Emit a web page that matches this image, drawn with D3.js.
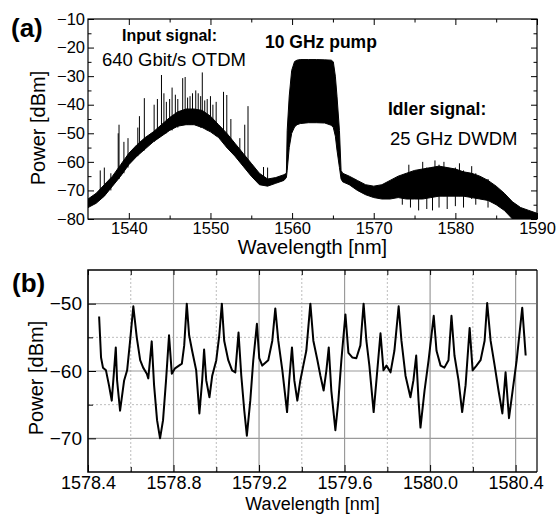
<!DOCTYPE html>
<html>
<head>
<meta charset="utf-8">
<script src="https://cdn.jsdelivr.net/npm/d3@7/dist/d3.min.js"></script>
<style>
  body { margin: 0; background: #fff; }
  svg { display: block; font-family: 'Liberation Sans', Arial, Helvetica, sans-serif; }
</style>
</head>
<body>
<div id="chart"></div>
<script>
// ---- panel (a): spectrum envelope (wavelength nm, upper / lower dBm)
const specWl = [1535, 1536, 1537, 1538, 1539, 1540, 1541, 1542, 1543, 1544, 1545, 1546, 1547, 1548, 1549,
  1550, 1551, 1552, 1553, 1554, 1555, 1556, 1557, 1558, 1559,
  1559.3, 1559.4, 1559.65, 1559.95, 1560.3, 1560.6,
  1561, 1562, 1563, 1564,
  1564.8, 1565.05, 1565.3, 1565.5, 1565.8, 1566.0, 1566.2,
  1567, 1568, 1569, 1570, 1571, 1572, 1573, 1574, 1575, 1576, 1577, 1578, 1579, 1580, 1581, 1582,
  1583, 1584, 1585, 1586, 1587, 1588, 1589, 1590]
const specHi = [-73, -71, -68, -65, -61, -57, -54, -51.5, -49.5, -47, -44.5, -42.5, -41.5, -41.5, -42,
  -44, -47, -50, -53.5, -57, -60.5, -64, -66, -65.5, -64.5,
  -64, -49, -37, -28, -24.9, -24.4,
  -24.2, -24.2, -24.2, -24.3,
  -24.4, -25, -30, -37, -49, -63, -64,
  -65, -66.5, -68, -68.5, -68, -66.5, -65, -64, -63, -62.5, -62, -61.5, -62, -62.5, -63.5, -64,
  -65, -66.5, -68.5, -71, -74, -76, -77, -78]
const specLo = [-76, -74.5, -72, -68.5, -65, -61, -58, -55.5, -53, -51, -49, -47.5, -47, -47, -48,
  -49.5, -51.5, -55, -58, -61.5, -65, -68, -68.5, -67.5, -66.5,
  -65.5, -63, -55, -50, -47.8, -47,
  -46.6, -46.3, -46.3, -46.4,
  -47.2, -48, -51, -55.9, -62, -66, -67,
  -68, -70, -71.5, -72.5, -73, -73, -72.5, -73, -73, -73, -72.5, -72, -72, -72, -72, -72.5,
  -73, -73.5, -75, -77, -80, -80, -80, -80]

// narrow spectral lines sticking out of the band: [wavelength, top dBm, bottom dBm]
const spikes = [[1536.5, -63, -73], [1537.0, -62, -72], [1537.8, -64, -70], [1538.7, -50, -66],
  [1538.8, -47, -66], [1539.4, -53, -64], [1539.9, -51.7, -62], [1541.1, -48, -58], [1541.3, -44, -57],
  [1541.9, -37.7, -56], [1543.1, -40, -53], [1543.5, -38, -52], [1544.0, -29.6, -51], [1544.3, -36, -50],
  [1544.6, -39, -50], [1545.0, -38, -49], [1545.3, -34, -49], [1545.7, -36.5, -48], [1546.0, -38, -48],
  [1546.6, -30.7, -47], [1546.9, -30.3, -47], [1547.2, -37.5, -47], [1547.5, -37, -47], [1547.8, -36, -47],
  [1548.2, -35, -47], [1548.5, -36, -47], [1548.8, -37, -48], [1549.0, -28.7, -48], [1549.3, -38.5, -48],
  [1549.6, -38, -49], [1550.0, -37, -49], [1550.3, -40, -50], [1550.7, -39, -51], [1551.6, -35.5, -53],
  [1552.0, -36.6, -55], [1552.5, -45, -56], [1553.6, -51.7, -60], [1554.2, -47, -62], [1554.6, -40.5, -63],
  [1556.5, -61.8, -68], [1557.0, -62, -68],
  [1573.5, -65, -75], [1574.3, -61, -73], [1574.5, -64, -76], [1575.5, -63, -77], [1576.0, -60, -73],
  [1576.5, -62, -76.5], [1577.2, -62, -77], [1577.5, -59.5, -72], [1578.0, -61, -76], [1578.6, -60, -72],
  [1579.0, -62, -76.5], [1580.0, -62, -75.5], [1580.5, -60.5, -72], [1581.0, -63, -76], [1582.0, -61.5, -73],
  [1582.5, -64, -75], [1584.0, -66, -76]]

// ---- panel (b): zoomed idler spectrum
const zoomWl = [1578.452, 1578.461, 1578.470, 1578.484, 1578.498, 1578.511, 1578.522, 1578.530, 1578.536,
  1578.550, 1578.569, 1578.583, 1578.597, 1578.612, 1578.628, 1578.644, 1578.658, 1578.675, 1578.682,
  1578.698, 1578.709, 1578.723, 1578.737, 1578.751, 1578.765, 1578.779, 1578.792, 1578.807, 1578.839,
  1578.850, 1578.862, 1578.873, 1578.887, 1578.906, 1578.921, 1578.934, 1578.943, 1578.953, 1578.968,
  1578.981, 1579.000, 1579.014, 1579.026, 1579.037, 1579.056, 1579.074, 1579.089, 1579.104, 1579.117,
  1579.131, 1579.143, 1579.159, 1579.173, 1579.190, 1579.201, 1579.215, 1579.243, 1579.262, 1579.276,
  1579.290, 1579.309, 1579.331, 1579.341, 1579.354, 1579.365, 1579.379, 1579.393, 1579.407, 1579.421,
  1579.440, 1579.454, 1579.473, 1579.487, 1579.502, 1579.515, 1579.526, 1579.538, 1579.557, 1579.571,
  1579.585, 1579.604, 1579.618, 1579.637, 1579.655, 1579.674, 1579.689, 1579.702, 1579.716, 1579.736,
  1579.749, 1579.768, 1579.782, 1579.796, 1579.815, 1579.833, 1579.853, 1579.866, 1579.885, 1579.908,
  1579.922, 1579.935, 1579.946, 1579.955, 1579.974, 1579.993, 1580.017, 1580.030, 1580.049, 1580.067,
  1580.086, 1580.100, 1580.114, 1580.133, 1580.150, 1580.166, 1580.185, 1580.199, 1580.217, 1580.236,
  1580.255, 1580.267, 1580.283, 1580.302, 1580.320, 1580.338, 1580.353, 1580.369, 1580.386, 1580.405,
  1580.431, 1580.447]
const zoomDbm = [-51.9, -58.0, -59.5, -59.9, -62.1, -64.4, -59.9, -56.5, -61.4,
  -65.9, -61.4, -59.9, -55.5, -50.4, -55.0, -58.4, -59.5, -60.4, -61.1,
  -55.6, -62.1, -67.3, -70.0, -67.3, -61.4, -54.7, -60.4, -59.6, -58.9,
  -56.2, -50.0, -54.7, -57.0, -59.9, -66.3, -61.4, -56.8, -61.4, -63.9,
  -60.7, -58.4, -54.7, -50.0, -55.5, -58.4, -59.9, -60.2, -54.3, -60.7,
  -65.9, -69.6, -64.4, -58.4, -53.0, -58.1, -59.2, -58.4, -55.5, -50.7,
  -55.5, -59.9, -66.1, -61.4, -56.5, -61.4, -64.4, -61.4, -59.2, -57.0,
  -50.0, -55.5, -58.4, -60.7, -62.9, -59.9, -56.5, -62.9, -68.8, -64.4,
  -58.4, -51.6, -57.3, -58.0, -58.1, -56.2, -50.0, -55.5, -59.2, -66.1,
  -61.4, -54.4, -59.9, -59.2, -60.2, -57.0, -50.4, -55.5, -60.7, -63.9,
  -61.4, -57.7, -64.4, -68.4, -62.9, -58.4, -51.8, -57.0, -59.2, -59.5,
  -58.4, -51.8, -57.7, -61.4, -66.1, -62.1, -53.6, -59.9, -59.2, -58.4,
  -55.5, -49.9, -55.5, -59.2, -62.9, -66.3, -60.2, -67.0, -62.9, -58.4,
  -50.6, -57.7]

// tick values
const aXMajor = [1540, 1550, 1560, 1570, 1580, 1590]
const aXMinor = [1545, 1555, 1565, 1575, 1585]
const aYMajor = [-10, -20, -30, -40, -50, -60, -70, -80]
const aYMinor = [-15, -25, -35, -45, -55, -65, -75]
const bXMajor = [1578.4, 1578.8, 1579.2, 1579.6, 1580.0, 1580.4]
const bXMinor = [1578.6, 1579.0, 1579.4, 1579.8, 1580.2]
const bYMajor = [-50, -60, -70]
const bYMinor = [-55, -65]

const width = 559
const height = 514

const svg = d3
  .select('#chart')
  .append('svg')
  .attr('width', width)
  .attr('height', height)

// ================= panel (a)
const aBox = { left: 88, right: 537, top: 19, bottom: 219 }

const xA = d3.scaleLinear().domain([1535, 1590]).range([aBox.left, aBox.right])
const yA = d3.scaleLinear().domain([-80, -10]).range([aBox.bottom, aBox.top])

svg.append('clipPath')
  .attr('id', 'clip-a')
  .append('rect')
  .attr('x', aBox.left)
  .attr('y', aBox.top)
  .attr('width', aBox.right - aBox.left)
  .attr('height', aBox.bottom - aBox.top)

const specData = specWl.map((w, i) => ({ wl: w, hi: specHi[i], lo: specLo[i] }))

const area = d3.area()
  .x(d => xA(d.wl))
  .y0(d => yA(d.lo))
  .y1(d => yA(d.hi))

const gA = svg.append('g').attr('clip-path', 'url(#clip-a)')

gA.append('path')
  .datum(specData)
  .attr('d', area)
  .attr('fill', '#000')
  .attr('stroke', '#000')
  .attr('stroke-width', 1)

gA.selectAll('.spike')
  .data(spikes)
  .enter()
  .append('line')
  .attr('class', 'spike')
  .attr('x1', d => xA(d[0]))
  .attr('x2', d => xA(d[0]))
  .attr('y1', d => yA(d[1]))
  .attr('y2', d => yA(d[2]))
  .attr('stroke', '#000')
  .attr('stroke-width', 1)

// axes with inward ticks on all four sides
function tickAxis(axisFn, scale, values, size, transform, labels, fontSize, pad) {
  const ax = axisFn(scale).tickValues(values).tickSize(-size)
  if (labels) {
    ax.tickFormat(labels).tickPadding(pad)
  } else {
    ax.tickFormat('')
  }
  const g = svg.append('g').attr('transform', transform).call(ax)
  g.select('.domain').remove()
  g.selectAll('line').attr('stroke', '#000')
  g.selectAll('text')
    .attr('fill', '#000')
    .style('font-family', "'Liberation Sans', Arial, sans-serif")
    .style('font-size', fontSize + 'px')
  return g
}

const fmtInt = d3.format('d')
tickAxis(d3.axisBottom, xA, aXMajor, 6, `translate(0,${aBox.bottom})`, fmtInt, 16.5, 3)
tickAxis(d3.axisBottom, xA, aXMinor, 3.5, `translate(0,${aBox.bottom})`, null)
tickAxis(d3.axisTop, xA, aXMajor, 6, `translate(0,${aBox.top})`, null)
tickAxis(d3.axisTop, xA, aXMinor, 3.5, `translate(0,${aBox.top})`, null)
tickAxis(d3.axisLeft, yA, aYMajor, 6, `translate(${aBox.left},0)`, fmtInt, 16.5, 3)
tickAxis(d3.axisLeft, yA, aYMinor, 3.5, `translate(${aBox.left},0)`, null)
tickAxis(d3.axisRight, yA, aYMajor, 6, `translate(${aBox.right},0)`, null)
tickAxis(d3.axisRight, yA, aYMinor, 3.5, `translate(${aBox.right},0)`, null)

svg.append('rect')
  .attr('x', aBox.left)
  .attr('y', aBox.top)
  .attr('width', aBox.right - aBox.left)
  .attr('height', aBox.bottom - aBox.top)
  .attr('fill', 'none')
  .attr('stroke', '#000')
  .attr('stroke-width', 1.2)

// labels panel (a)
svg.append('text').text('(a)')
  .attr('x', 11).attr('y', 37)
  .attr('font-size', 26).attr('font-weight', 'bold')

svg.append('text').text('Wavelength [nm]')
  .attr('x', (aBox.left + aBox.right) / 2).attr('y', 254)
  .attr('text-anchor', 'middle').attr('font-size', 20)

svg.append('text').text('Power [dBm]')
  .attr('transform', 'translate(45,128) rotate(-90)')
  .attr('text-anchor', 'middle').attr('font-size', 20)

svg.append('text').text('Input signal:')
  .attr('x', 122).attr('y', 41)
  .attr('font-size', 16).attr('font-weight', 'bold')
svg.append('text').text('640 Gbit/s OTDM')
  .attr('x', 102).attr('y', 66)
  .attr('font-size', 18.5)
svg.append('text').text('10 GHz pump')
  .attr('x', 265).attr('y', 48)
  .attr('font-size', 17.5).attr('font-weight', 'bold')
svg.append('text').text('Idler signal:')
  .attr('x', 388).attr('y', 115)
  .attr('font-size', 17.5).attr('font-weight', 'bold')
svg.append('text').text('25 GHz DWDM')
  .attr('x', 390).attr('y', 145)
  .attr('font-size', 18.5)

// ================= panel (b)
const bBox = { left: 88, right: 537, top: 270, bottom: 472 }

const xB = d3.scaleLinear().domain([1578.4, 1580.5]).range([bBox.left, bBox.right])
const yB = d3.scaleLinear().domain([-75, -45]).range([bBox.bottom, bBox.top])

// grid
const gridB = svg.append('g')
gridB.selectAll('.vmin').data(bXMinor).enter().append('line')
  .attr('x1', d => xB(d)).attr('x2', d => xB(d))
  .attr('y1', bBox.top).attr('y2', bBox.bottom)
  .attr('stroke', '#bdbdbd').attr('stroke-dasharray', '2,2')
gridB.selectAll('.hmin').data(bYMinor).enter().append('line')
  .attr('x1', bBox.left).attr('x2', bBox.right)
  .attr('y1', d => yB(d)).attr('y2', d => yB(d))
  .attr('stroke', '#bdbdbd').attr('stroke-dasharray', '2,2')
gridB.selectAll('.vmaj').data(bXMajor).enter().append('line')
  .attr('x1', d => xB(d)).attr('x2', d => xB(d))
  .attr('y1', bBox.top).attr('y2', bBox.bottom)
  .attr('stroke', '#9a9a9a').attr('stroke-width', 1.2)
gridB.selectAll('.hmaj').data(bYMajor).enter().append('line')
  .attr('x1', bBox.left).attr('x2', bBox.right)
  .attr('y1', d => yB(d)).attr('y2', d => yB(d))
  .attr('stroke', '#9a9a9a').attr('stroke-width', 1.2)

const zoomData = zoomWl.map((w, i) => ({ wl: w, p: zoomDbm[i] }))

const line = d3.line()
  .x(d => xB(d.wl))
  .y(d => yB(d.p))

svg.append('path')
  .datum(zoomData)
  .attr('d', line)
  .attr('fill', 'none')
  .attr('stroke', '#000')
  .attr('stroke-width', 2)
  .attr('stroke-linejoin', 'round')

const fmtB = d3.format('.1f')
tickAxis(d3.axisBottom, xB, bXMajor, 7, `translate(0,${bBox.bottom})`, fmtB, 18, 4)
tickAxis(d3.axisBottom, xB, bXMinor, 5, `translate(0,${bBox.bottom})`, null)
tickAxis(d3.axisTop, xB, bXMajor, 5, `translate(0,${bBox.top})`, null)
tickAxis(d3.axisTop, xB, bXMinor, 5, `translate(0,${bBox.top})`, null)
tickAxis(d3.axisLeft, yB, bYMajor, 8, `translate(${bBox.left},0)`, fmtInt, 19, 6)
tickAxis(d3.axisLeft, yB, bYMinor, 5, `translate(${bBox.left},0)`, null)

// frame: black left/bottom/top, grey right
svg.append('line')
  .attr('x1', bBox.right).attr('x2', bBox.right)
  .attr('y1', bBox.top).attr('y2', bBox.bottom)
  .attr('stroke', '#666').attr('stroke-width', 2)
svg.append('path')
  .attr('d', `M${bBox.right},${bBox.top}H${bBox.left}V${bBox.bottom}H${bBox.right}`)
  .attr('fill', 'none')
  .attr('stroke', '#000')
  .attr('stroke-width', 1.5)

svg.append('text').text('(b)')
  .attr('x', 12).attr('y', 292)
  .attr('font-size', 26).attr('font-weight', 'bold')

svg.append('text').text('Wavelength [nm]')
  .attr('x', (bBox.left + bBox.right) / 2).attr('y', 510)
  .attr('text-anchor', 'middle').attr('font-size', 18)

svg.append('text').text('Power [dBm]')
  .attr('transform', 'translate(43,378) rotate(-90)')
  .attr('text-anchor', 'middle').attr('font-size', 20)
</script>
</body>
</html>
